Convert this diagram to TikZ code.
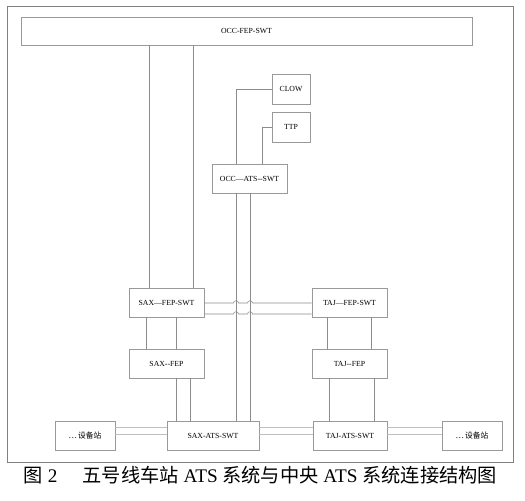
\documentclass[tikz,border=0pt]{standalone}
\usepackage{fontspec}
\setmainfont{Liberation Serif}
\newfontfamily\cjk{Noto Sans CJK SC}
\begin{document}
\begin{tikzpicture}[x=1bp,y=-1bp,
  lin/.style={draw=black!45, line width=0.6bp},
  dbl/.style={draw=black!25, line width=0.8bp},
  box/.style={draw=black!40, line width=0.6bp, inner sep=0pt, minimum height=29bp, font=\fontsize{7.8}{9}\selectfont, fill=white}]
\useasboundingbox (0,0) rectangle (525,501);
\draw[draw=black!50, line width=0.8bp] (7,6) rectangle (513,462);
% boxes
\node[box, minimum width=451bp, minimum height=28bp] (occfep) at (246.5,31) {OCC-FEP-SWT};
\node[box, minimum width=38bp, minimum height=30bp] (clow) at (291,89) {CLOW};
\node[box, minimum width=38bp, minimum height=30bp] (ttp) at (291,127) {TTP};
\node[box, minimum width=75bp] (occats) at (249.5,178.5) {OCC—ATS-{}-SWT};
\node[box, minimum width=75bp] (saxfepswt) at (166.5,302.5) {SAX—FEP-SWT};
\node[box, minimum width=75bp] (tajfepswt) at (349.5,302.5) {TAJ—FEP-SWT};
\node[box, minimum width=75bp] (saxfep) at (166.5,363.5) {SAX-{}-FEP};
\node[box, minimum width=75bp] (tajfep) at (349.5,363.5) {TAJ-{}-FEP};
\node[box, minimum width=60bp] (ldev) at (85,435.5) {{\cjk …}\,{\cjk 设备站}};
\node[box, minimum width=92bp] (saxats) at (213,435.5) {SAX-ATS-SWT};
\node[box, minimum width=74bp] (tajats) at (350,435.5) {TAJ-ATS-SWT};
\node[box, minimum width=60bp] (rdev) at (472,435.5) {{\cjk …}\,{\cjk 设备站}};
% column coordinates
\coordinate (c149) at (149,0);
\coordinate (c193) at (193,0);
\coordinate (c236) at (236,0);
\coordinate (c250) at (250,0);
\coordinate (c262) at (262,0);
\coordinate (c146) at (146,0);
\coordinate (c176) at (176,0);
\coordinate (c190) at (190,0);
\coordinate (c327) at (327,0);
\coordinate (c371) at (371,0);
\coordinate (c329) at (329,0);
\coordinate (c374) at (374,0);
\coordinate (r303) at (0,303);
\coordinate (r314) at (0,314);
\coordinate (r427) at (0,427);
\coordinate (r434) at (0,434);
% OCC-FEP-SWT to SAX-FEP-SWT
\draw[lin] (c149 |- occfep.south) -- (c149 |- saxfepswt.north);
\draw[lin] (c193 |- occfep.south) -- (c193 |- saxfepswt.north);
% CLOW / TTP to OCC-ATS
\draw[lin] (clow.west) -| (c236 |- occats.north);
\draw[lin] (ttp.west) -| (c262 |- occats.north);
% OCC-ATS to SAX-ATS
\draw[lin] (c236 |- occats.south) -- (c236 |- saxats.north);
\draw[lin] (c250 |- occats.south) -- (c250 |- saxats.north);
% SAX side
\draw[lin] (c146 |- saxfepswt.south) -- (c146 |- saxfep.north);
\draw[lin] (c176 |- saxfepswt.south) -- (c176 |- saxfep.north);
\draw[lin] (c176 |- saxfep.south) -- (c176 |- saxats.north);
\draw[lin] (c190 |- saxfep.south) -- (c190 |- saxats.north);
% TAJ side
\draw[lin] (c327 |- tajfepswt.south) -- (c327 |- tajfep.north);
\draw[lin] (c371 |- tajfepswt.south) -- (c371 |- tajfep.north);
\draw[lin] (c329 |- tajfep.south) -- (c329 |- tajats.north);
\draw[lin] (c374 |- tajfep.south) -- (c374 |- tajats.north);
% SAX-FEP-SWT to TAJ-FEP-SWT with jumps
\draw[lin] (saxfepswt.east |- r303) -- (233.5,303) .. controls (233.5,300) and (238.5,300) .. (238.5,303)
  -- (247.5,303) .. controls (247.5,300) and (252.5,300) .. (252.5,303) -- (tajfepswt.west |- r303);
\draw[lin] (saxfepswt.east |- r314) -- (233.5,314) .. controls (233.5,311) and (238.5,311) .. (238.5,314)
  -- (247.5,314) .. controls (247.5,311) and (252.5,311) .. (252.5,314) -- (tajfepswt.west |- r314);
% bottom row double links
\draw[dbl] (ldev.east |- r427) -- (saxats.west |- r427);
\draw[dbl] (ldev.east |- r434) -- (saxats.west |- r434);
\draw[dbl] (saxats.east |- r427) -- (tajats.west |- r427);
\draw[dbl] (saxats.east |- r434) -- (tajats.west |- r434);
\draw[dbl] (tajats.east |- r427) -- (rdev.west |- r427);
\draw[dbl] (tajats.east |- r434) -- (rdev.west |- r434);
% caption
\node[font=\fontsize{19.3}{21}\selectfont, inner sep=0pt] (cap) at (260.5,475)
  {{\cjk 图} 2\hspace{1.3em}{\cjk 五号线车站} ATS {\cjk 系统与中央} ATS {\cjk 系统连接结构图}};
\end{tikzpicture}
\end{document}
